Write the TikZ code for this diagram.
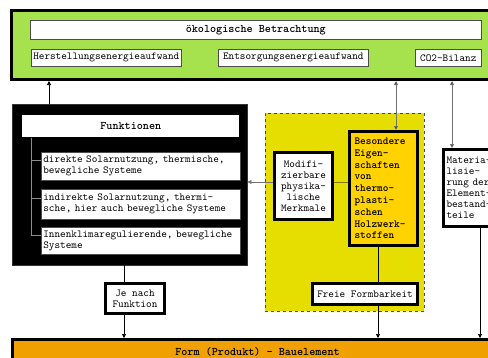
\documentclass[tikz,border=0pt]{standalone}
\usepackage{fontspec}
\usetikzlibrary{arrows.meta}
\definecolor{oekogruen}{RGB}{166,226,78}
\definecolor{feldgelb}{RGB}{230,222,0}
\definecolor{besgelb}{RGB}{255,210,0}
\definecolor{formorange}{RGB}{240,160,0}
\newcommand\normalschrift{\ttfamily\fontsize{10.7}{11}\selectfont}
\newcommand\titelschrift{\ttfamily\bfseries\fontsize{11.6}{12}\selectfont}
\newcommand\besschrift{\ttfamily\bfseries\fontsize{10.8}{11.8}\selectfont}
\tikzset{
  kasten/.style={draw=black!70, fill=white, line width=0.6pt, anchor=north west,
    inner sep=2pt, font=\normalschrift},
  dick/.style={kasten, draw=black, line width=3pt},
  pfeil/.style={-{Triangle[length=4pt,width=4pt]}, line width=0.6pt},
  dpfeil/.style={{Triangle[length=4pt,width=4pt,fill=black]}-{Triangle[length=4pt,width=4pt,fill=black]},
    line width=0.8pt, draw=black!55},
  ast/.style={draw=black!45, line width=0.6pt}
}
\begin{document}
\begin{tikzpicture}[x=1pt,y=-1pt]
  \clip (0,0) rectangle (488,357);
  % oben
  \node[dick, fill=oekogruen, minimum width=500pt, minimum height=69pt] (oeko) at (10,9) {};
  \node[kasten, minimum width=451pt, minimum height=19pt, font=\titelschrift] (oekotitel) at (30,20) {ökologische Betrachtung};
  \node[kasten, minimum width=150pt, minimum height=17pt, inner sep=1pt] (herst) at (31,49) {Herstellungsenergieaufwand};
  \node[kasten, minimum width=150pt, minimum height=17pt, inner sep=1pt] (entsorg) at (218,49) {Entsorgungsenergieaufwand};
  \node[kasten, minimum width=66pt, minimum height=17pt, inner sep=1pt] (co2) at (415,49) {CO2-Bilanz};
  % Funktionen
  \node[fill=black, draw=black!80, anchor=north west, minimum width=235pt, minimum height=161pt] (fun) at (12,104) {};
  \node[kasten, draw=none, minimum width=217pt, minimum height=22pt, font=\titelschrift] (funtitel) at (22,115) {Funktionen};
  \node[kasten, align=left, text width=195pt, minimum height=28pt] (dir) at (41,152)
    {direkte Solarnutzung, thermische,\\bewegliche Systeme};
  \node[kasten, align=left, text width=195pt, minimum height=30pt] (indir) at (41,189)
    {indirekte Solarnutzung, thermi-\\sche, hier auch bewegliche Systeme};
  \node[kasten, align=left, text width=195pt, minimum height=27pt] (innen) at (41,227)
    {Innenklimaregulierende, bewegliche\\Systeme};
  \draw[ast] ([xshift=9pt]funtitel.south west) |- ([yshift=-8pt]dir.north west);
  \draw[ast] ([xshift=9pt]funtitel.south west) |- ([yshift=-9pt]indir.north west);
  \draw[ast] ([xshift=9pt]funtitel.south west) |- ([yshift=-8pt]innen.north west);
  % Holzwerkstoffe
  \node[draw=black!70, dashed, fill=feldgelb, anchor=north west, minimum width=159pt, minimum height=198pt] (feld) at (265,113) {};
  \node[dick, align=center, minimum width=58pt, minimum height=67pt] (modif) at (273,151)
    {Modifi-\\zierbare\\physika-\\lische\\Merkmale};
  \node[dick, fill=besgelb, align=left, text width=58pt, minimum width=68pt, minimum height=114pt, font=\besschrift] (bes) at (348,130)
    {Besondere\\Eigen-\\schaften\\von\\thermo-\\plasti-\\schen\\Holzwerk-\\stoffen};
  \node[dick, align=left, text width=54pt, minimum width=60pt, minimum height=77pt] (mat) at (442,148)
    {Materia-\\lisie-\\rung der\\Element-\\bestand-\\teile};
  \node[dick, align=center, minimum width=59pt, minimum height=30pt] (jenach) at (104,282) {Je nach\\Funktion};
  \node[dick, minimum width=105pt, minimum height=21pt] (freie) at (311,282) {Freie Formbarkeit};
  % unten
  \node[dick, fill=formorange, minimum width=490pt, minimum height=24pt, font=\titelschrift] (form) at (11,338)
    {Form (Produkt) – Bauelement};
  \coordinate (xa) at (49,0); \coordinate (xb) at (124,0); \coordinate (xc) at (378,0);
  \coordinate (xd) at (396,0); \coordinate (xe) at (452,0); \coordinate (xf) at (480,0);
  \draw[pfeil] (fun.north -| xa) -- (oeko.south -| xa);
  \draw[dpfeil] (bes.north -| xd) -- (oeko.south -| xd);
  \draw[dpfeil] (mat.north -| xe) -- (oeko.south -| xe);
  \draw[pfeil, draw=black!55] ([yshift=4pt]modif.west) -- ([yshift=4pt]modif.west -| fun.east);
  \draw[draw=black!45!feldgelb, line width=1pt] ([yshift=4pt]modif.east) -- ([yshift=4pt]modif.east -| bes.west);
  \draw[line width=0.6pt] (fun.south -| xb) -- (jenach.north -| xb);
  \draw[pfeil] (jenach.south -| xb) -- (form.north -| xb);
  \draw[line width=0.6pt] (bes.south -| xc) -- (freie.north -| xc);
  \draw[pfeil] (freie.south -| xc) -- (form.north -| xc);
  \draw[pfeil] (mat.south -| xf) -- (form.north -| xf);
\end{tikzpicture}
\end{document}
